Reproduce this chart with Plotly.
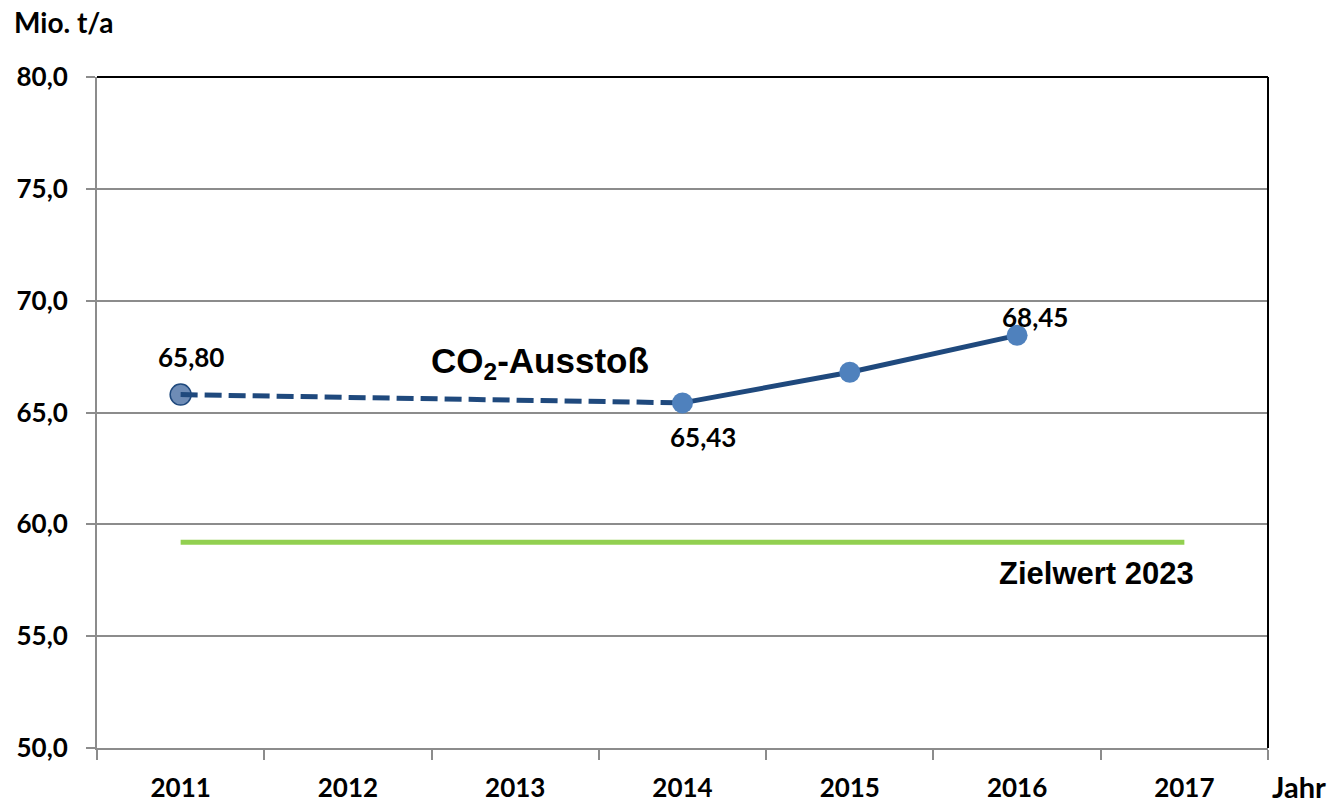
import plotly.graph_objects as go

years = ['2011', '2012', '2013', '2014', '2015', '2016', '2017']
# CO2-Ausstoß, Mio. t/a
est_years = ['2011', '2014']
est_values = [65.80, 65.43]
real_years = ['2014', '2015', '2016']
real_values = [65.43, 66.80, 68.45]
target_value = 59.2
target_years = ['2011', '2017']

dark_blue = '#1f497d'
mid_blue = '#4f81bd'
green = '#92d050'
grid = '#8c8c8c'
num_font = dict(family='Lato', size=26, color='black', weight='bold')


def idx(y):
    return years.index(y)


def lbl(v):
    return f'{v:.2f}'.replace('.', ',')


fig = go.Figure()

fig.add_trace(go.Scatter(
    x=target_years, y=[target_value] * len(target_years),
    mode='lines', line=dict(color=green, width=5),
    hoverinfo='skip', showlegend=False))

fig.add_trace(go.Scatter(
    x=est_years[:1], y=est_values[:1], mode='markers',
    marker=dict(size=21, color='#6e8cb6', line=dict(color=dark_blue, width=1.5)),
    showlegend=False))

fig.add_trace(go.Scatter(
    x=est_years, y=est_values, mode='lines',
    line=dict(color=dark_blue, width=5, dash='17px,7px'),
    showlegend=False))

fig.add_trace(go.Scatter(
    x=real_years, y=real_values, mode='lines+markers',
    line=dict(color=dark_blue, width=5),
    marker=dict(size=21, color=mid_blue),
    showlegend=False))

fig.add_annotation(x=idx(est_years[0]), y=est_values[0], text=lbl(est_values[0]),
                   showarrow=False, font=num_font, xshift=10, yshift=38)
fig.add_annotation(x=idx(real_years[0]), y=real_values[0], text=lbl(real_values[0]),
                   showarrow=False, font=num_font, xshift=20, yshift=-34)
fig.add_annotation(x=idx(real_years[-1]), y=real_values[-1], text=lbl(real_values[-1]),
                   showarrow=False, font=num_font, xshift=18, yshift=18)

fig.add_annotation(x=2.15, y=67.2, text='CO<sub>2</sub>-Ausstoß', showarrow=False,
                   font=dict(family='Liberation Sans', size=35, color='black', weight='bold'))
fig.add_annotation(x=idx(target_years[-1]), y=57.8, text='Zielwert 2023', showarrow=False,
                   xshift=-88,
                   font=dict(family='Liberation Sans', size=31, color='black', weight='bold'))

fig.add_annotation(xref='paper', yref='paper', x=-0.073, y=1.0, yshift=55,
                   xanchor='left', yanchor='middle', text='Mio. t/a', showarrow=False,
                   font=dict(num_font, size=28))
fig.add_annotation(xref='paper', yref='paper', x=1.0, y=0, yshift=-38, xshift=2,
                   xanchor='left', yanchor='middle', text='Jahr', showarrow=False,
                   font=dict(num_font, size=29))

# black frame on top and right
fig.add_shape(type='line', xref='paper', yref='paper', x0=0, x1=1, y0=1, y1=1,
              line=dict(color='black', width=2))
fig.add_shape(type='line', xref='paper', yref='paper', x0=1, x1=1, y0=0, y1=1,
              line=dict(color='black', width=2))

fig.update_layout(
    width=1339, height=804,
    margin=dict(l=97, r=71, t=77, b=56),
    plot_bgcolor='white', paper_bgcolor='white',
    separators=',.',
    xaxis=dict(type='category', categoryorder='array', categoryarray=years,
               range=[-0.5, 6.5], tickson='boundaries', ticks='outside',
               ticklen=10, tickwidth=1.5, tickcolor=grid, showline=True,
               linecolor=grid, linewidth=2, showgrid=False, automargin=False,
               tickfont=num_font, ticklabelstandoff=16),
    yaxis=dict(range=[50, 80], dtick=5, tickformat='.1f', ticks='outside',
               ticklen=9, tickwidth=1.5, tickcolor=grid, showline=True,
               linecolor=grid, linewidth=2, gridcolor=grid, gridwidth=1.5,
               zeroline=False, automargin=False, tickfont=num_font,
               ticklabelstandoff=13),
)

fig.write_html('out.html', config={'displayModeBar': False},
               post_script="document.body.style.margin='0';")
